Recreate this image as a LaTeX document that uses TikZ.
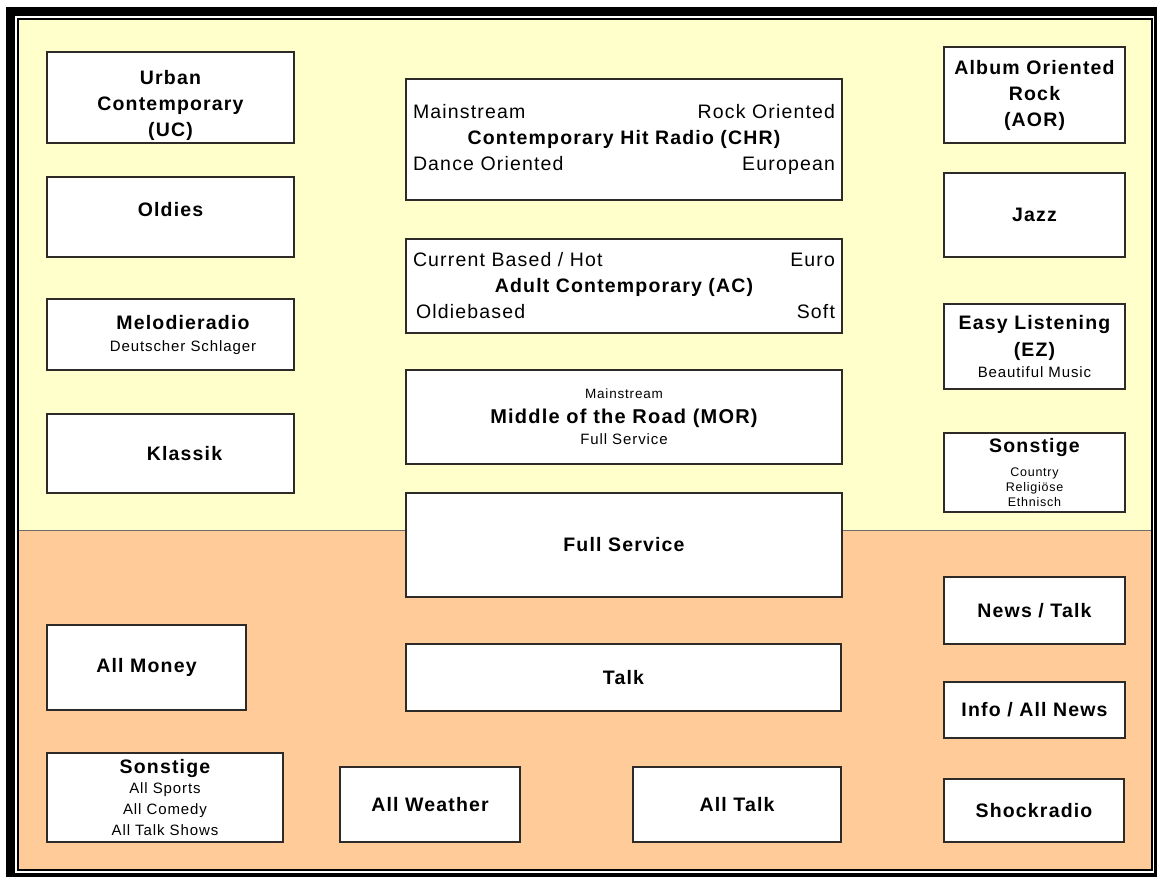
\documentclass[tikz,border=0pt]{standalone}
\usepackage{fontspec}
\setmainfont{Liberation Sans}[LetterSpace=6]
\usepackage{tikz}
\usepackage{xcolor}
\definecolor{musik}{HTML}{FFFFCC}
\definecolor{wort}{HTML}{FFCC99}
\definecolor{rahmen}{HTML}{2E2A28}
\newcommand{\klein}{\fontsize{15}{18}\selectfont\mdseries}
\newcommand{\winzig}{\fontsize{12.5}{15}\selectfont\mdseries}

\begin{document}
\begin{tikzpicture}[x=1pt, y=-1pt,
  fmt/.style={draw=rahmen, line width=1.3pt, fill=white, inner sep=0pt, align=center,
    font=\fontsize{19.5}{26}\selectfont\bfseries}]
  \useasboundingbox (0,0) rectangle (1157,876);
  \clip (0,0) rectangle (1157,876);

  % double frame and the two bands
  \fill[black] (6,7) rectangle (1170,890);
  \fill[white] (15,16) rectangle (1154.3,872.7);
  \fill[black] (17,18) rectangle (1152.7,870.7);
  \fill[musik] (19,20) rectangle (1151,530.5);
  \fill[wort] (19,530.5) rectangle (1151,868.5);
  \draw[rahmen!70, line width=0.8pt] (19,530.5) -- (1151,530.5);

  % music formats, left column
  \node[fmt, minimum width=247pt, minimum height=91pt] (urban) at (170.5,97.5) {\rule{0pt}{31pt}Urban\\Contemporary\\(UC)};
  \node[fmt, minimum width=247pt, minimum height=80pt] (oldies) at (170.5,217) {Oldies\rule[-15pt]{0pt}{15pt}};
  \node[fmt, minimum width=247pt, minimum height=71pt] (melodie) at (170.5,334.5) {\hspace*{25pt}Melodieradio\\[-4pt]{\klein\hspace*{25pt}Deutscher Schlager}};
  \node[fmt, minimum width=247pt, minimum height=79pt] (klassik) at (170.5,453.5) {\hspace*{28pt}Klassik};

  % center column
  \node[fmt, minimum width=436pt, minimum height=121pt, text width=422pt] (chr) at (624,139.5)
    {{\mdseries Mainstream\hfill Rock Oriented}\\Contemporary Hit Radio (CHR)\\{\mdseries Dance Oriented\hfill European}};
  \node[fmt, minimum width=436pt, minimum height=94pt, text width=422pt] (ac) at (624,286)
    {{\mdseries Current Based / Hot\hfill Euro}\\Adult Contemporary (AC)\\{\mdseries\hspace*{3pt}Oldiebased\hfill Soft\hspace*{5pt}}};
  \node[fmt, minimum width=436pt, minimum height=94pt] (mor) at (624,417)
    {{\fontsize{13.5}{16}\selectfont\mdseries Mainstream}\\[-1pt]{\fontsize{20}{26}\selectfont Middle of the Road (MOR)}\\[-5pt]{\klein Full Service}};
  \node[fmt, minimum width=436pt, minimum height=104pt] (fullservice) at (624,545) {Full Service};
  \node[fmt, minimum width=435pt, minimum height=67pt] (talk) at (623.5,677.5) {Talk};

  % music formats, right column
  \node[fmt, minimum width=181pt, minimum height=96pt] (aor) at (1034.5,95) {Album Oriented\\Rock\\(AOR)};
  \node[fmt, minimum width=181pt, minimum height=84pt] (jazz) at (1034.5,215) {Jazz};
  \node[fmt, minimum width=181pt, minimum height=85pt] (easy) at (1034.5,346.5)
    {Easy Listening\\[1pt](EZ)\\[-5pt]{\klein Beautiful Music}};
  \node[fmt, minimum width=181pt, minimum height=79pt] (sonstm) at (1034.5,472.5)
    {Sonstige\\[-2pt]{\winzig Country}\\[-11pt]{\winzig Religiöse}\\[-11pt]{\winzig Ethnisch}};

  % word formats
  \node[fmt, minimum width=181pt, minimum height=67pt] (newstalk) at (1034.5,610.5) {News / Talk};
  \node[fmt, minimum width=181pt, minimum height=56pt] (info) at (1034.5,710) {Info / All News};
  \node[fmt, minimum width=180pt, minimum height=63pt] (shock) at (1034,810.5) {Shockradio};
  \node[fmt, minimum width=199pt, minimum height=85pt] (money) at (146.5,667.5) {All Money};
  \node[fmt, minimum width=236pt, minimum height=89pt] (sonstw) at (165,797.5)
    {Sonstige\\[-6pt]{\klein All Sports}\\[-5pt]{\klein All Comedy}\\[-5pt]{\klein All Talk Shows}};
  \node[fmt, minimum width=180pt, minimum height=75pt] (weather) at (430,804.5) {All Weather};
  \node[fmt, minimum width=208pt, minimum height=75pt] (alltalk) at (737,804.5) {All Talk};
\end{tikzpicture}
\end{document}
